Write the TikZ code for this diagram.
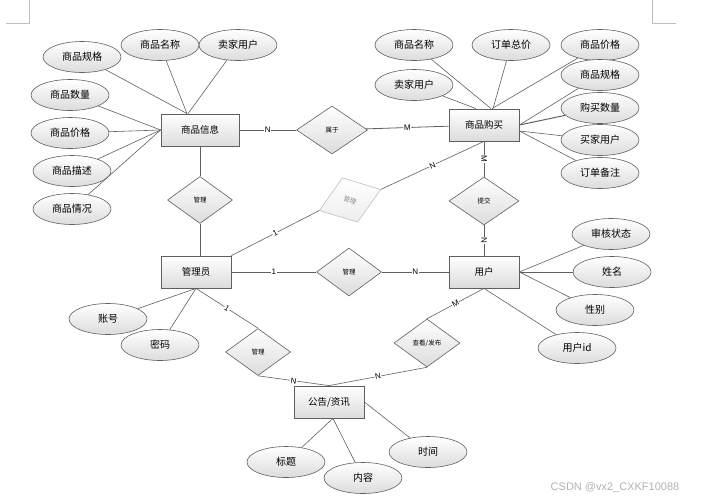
\documentclass[tikz,border=0pt]{standalone}
\usepackage{fontspec}
\setmainfont{Noto Sans CJK SC}
\newfontfamily\latinfont{Liberation Sans}
\usepackage{graphicx}
\usepackage{tikz}
\definecolor{ln}{RGB}{95, 95, 95}
\definecolor{sh}{RGB}{220, 220, 220}
\usetikzlibrary{shapes.geometric}

\begin{document}
\begin{tikzpicture}
				[x=1pt, y=-1pt, every node/.style={inner sep=0pt},
				ent/.style={rectangle, minimum width=70pt, minimum height=32pt, top color=white, bottom color=sh, line width=0.8pt, draw=ln, font=\fontsize{9.5}{11}\selectfont},
				att/.style={ellipse, minimum width=78pt, minimum height=31pt, top color=white, bottom color=sh, line width=0.6pt, draw=ln, font=\fontsize{10}{12}\selectfont},
				rel/.style={diamond, minimum width=65pt, minimum height=47pt, top color=white, bottom color=sh, line width=0.6pt, draw=ln, font=\fontsize{6.5}{8}\selectfont},
				con/.style={line width=0.6pt, color=ln},
				lbl/.style={fill=white, inner sep=0.6pt, sloped, text=black, font=\latinfont\fontsize{8}{9}\selectfont}]
				\useasboundingbox (0, 0) rectangle (702, 501);
				% page corners
				\draw [line width=0.5pt, color=black!25] (6, 23) -- (29, 23) -- (29, 0);
				\draw [line width=0.5pt, color=black!25] (652, 0) -- (652, 23) -- (676, 23);
				% entities
				\node (1) [ent, minimum width=78pt] at (200, 130)  {商品信息};
				\node (2) [ent] at (484, 125)  {商品购买};
				\node (3) [ent] at (196, 272)  {管理员};
				\node (4) [ent] at (484, 272)  {用户};
				\node (5) [ent] at (329, 402)  {公告/资讯};
				% relations
				\node (6) [rel, minimum width=71pt, minimum height=48pt] at (332, 130)  {属于};
				\node (7) [rel] at (200, 200)  {管理};
				\node (8) [rel, rotate=19, draw=black!25, bottom color=black!7, text=black!45] at (350, 200)  {\rotatebox{-39}{管理}};
				\node (9) [rel, minimum height=48pt] at (349, 272)  {管理};
				\node (10) [rel, minimum width=70pt, minimum height=48pt] at (484, 201)  {提交};
				\node (11) [rel] at (258, 352)  {管理};
				\node (12) [rel, minimum width=66pt, minimum height=48pt] at (427, 343)  {查看/发布};
				% attributes
				\node (13) [att] at (82, 57)  {商品规格};
				\node (14) [att] at (160, 45)  {商品名称};
				\node (15) [att] at (238, 45)  {卖家用户};
				\node (16) [att] at (70, 95)  {商品数量};
				\node (17) [att] at (70, 133)  {商品价格};
				\node (18) [att] at (72, 171)  {商品描述};
				\node (19) [att] at (72, 209)  {商品情况};
				\node (20) [att] at (414, 45)  {商品名称};
				\node (21) [att] at (511, 45)  {订单总价};
				\node (22) [att] at (600, 45)  {商品价格};
				\node (23) [att] at (414, 85)  {卖家用户};
				\node (24) [att] at (600, 75)  {商品规格};
				\node (25) [att] at (600, 108)  {购买数量};
				\node (26) [att] at (600, 140)  {买家用户};
				\node (27) [att] at (600, 173)  {订单备注};
				\node (28) [att] at (611, 234)  {审核状态};
				\node (29) [att] at (612, 272)  {姓名};
				\node (30) [att] at (595, 310)  {性别};
				\node (31) [att] at (577, 348)  {用户id};
				\node (32) [att] at (108, 319)  {账号};
				\node (33) [att] at (160, 345)  {密码};
				\node (34) [att] at (286, 462)  {标题};
				\node (35) [att] at (363, 478)  {内容};
				\node (36) [att] at (428, 452)  {时间};
				% relation lines
				\draw [con, line width=0.8pt] (1) to node [lbl] {N} (6);
				\draw [con, line width=0.8pt] (6) to node [lbl] {M} (2);
				\draw [con] (1.south -| 7.north) to (7);
				\draw [con] (7) to (7.south |- 3.north);
				\draw [con] (3.north east) to node [lbl] {1} (8.west);
				\draw [con] (8.east) to node [lbl] {N} (2.south);
				\draw [con, line width=0.8pt] (3) to node [lbl] {1} (9);
				\draw [con, line width=0.8pt] (9) to node [lbl] {N} (4);
				\draw [con] (2) to node [lbl] {M} (10);
				\draw [con] (10) to node [lbl] {N} (4);
				\draw [con] (3.south) to node [lbl] {1} (11.north);
				\draw [con] (11.south) to node [lbl] {N} (5.north);
				\draw [con] (12.south) to node [lbl] {N} (5.north);
				\draw [con] (4.south) to node [lbl] {M} (12.north);
				% attribute lines
				\draw [con] (13) to ([xshift=-13pt]1.north);
				\draw [con] (14) to ([xshift=-13pt]1.north);
				\draw [con] (15) to ([xshift=-12pt]1.north);
				\draw [con] (16) to (1.west);
				\draw [con] (17) to (1.west);
				\draw [con] (18) to (1.west);
				\draw [con] (19) to (1.west);
				\draw [con] (20) to ([xshift=7pt]2.north);
				\draw [con] (21) to ([xshift=9pt]2.north);
				\draw [con] (22) to ([xshift=8pt]2.north);
				\draw [con] (23) to ([xshift=-8pt]2.north);
				\draw [con] (24) to (2.east);
				\draw [con, line width=1pt] (25) to (2.east);
				\draw [con] (26) to ([yshift=-6pt]2.east);
				\draw [con] (27) to ([yshift=-6pt]2.east);
				\draw [con] (28) to (4.east);
				\draw [con, line width=1pt] (29) to (4.east);
				\draw [con] (30) to (4.east);
				\draw [con] (31) to (4.south);
				\draw [con] (32) to (3.south);
				\draw [con] (33) to (3.south);
				\draw [con] (34) to ([xshift=4pt]5.south);
				\draw [con] (35) to ([xshift=4pt]5.south);
				\draw [con] (36) to (5.east);
				% watermark
				\node (37) [text=black!30, font=\latinfont\fontsize{11}{13}\selectfont] at (615, 488)  {CSDN @vx2\_CXKF10088};
		\end{tikzpicture}
\end{document}
